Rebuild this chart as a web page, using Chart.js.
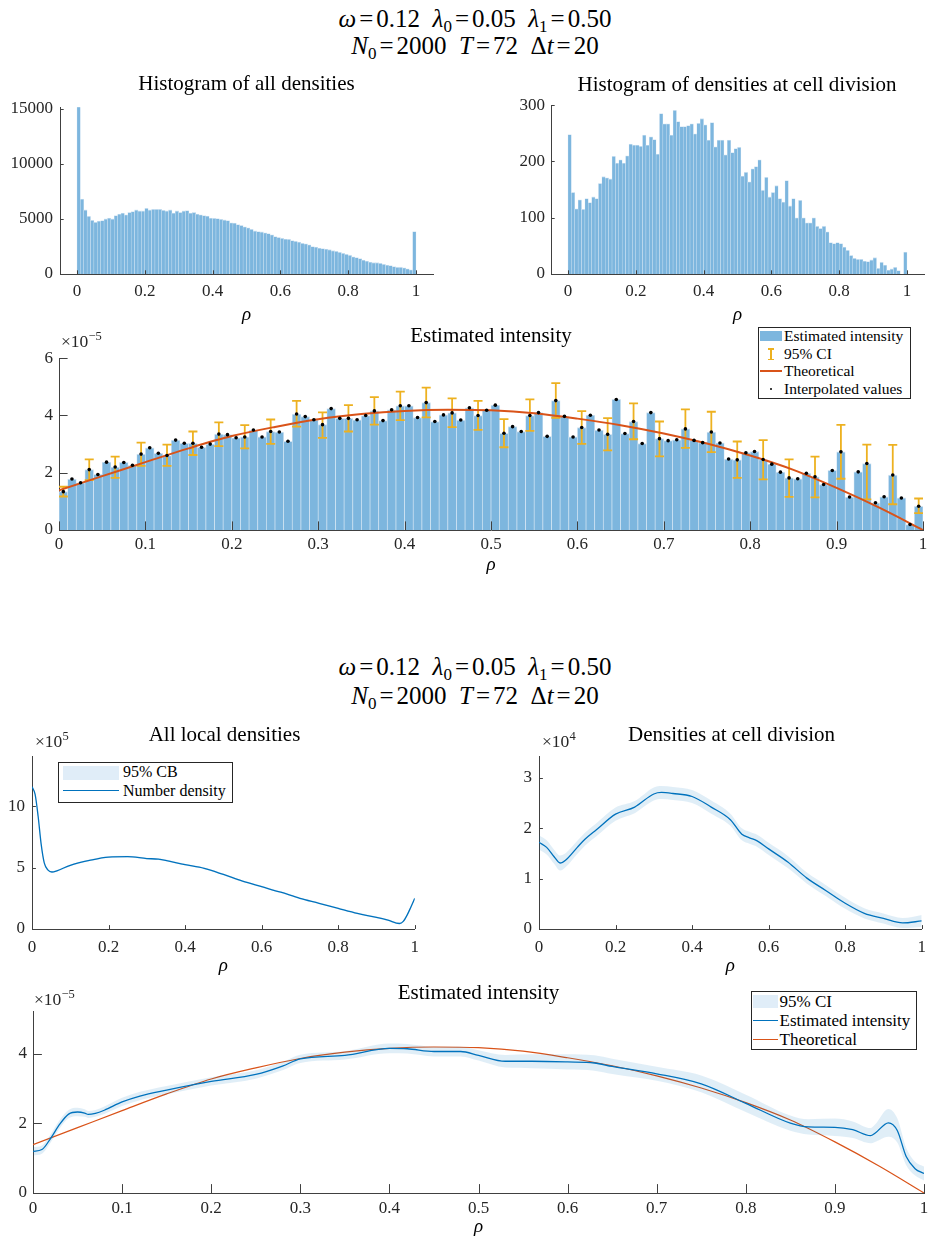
<!DOCTYPE html>
<html>
<head>
<meta charset="utf-8">
<script src="https://cdn.jsdelivr.net/npm/chart.js@4.4.1/dist/chart.umd.min.js"></script>
<style>
html, body { margin: 0; padding: 0; background: #fff; overflow: hidden; }
body { width: 928px; height: 1239px; position: relative; font-family: "Liberation Serif", "Times New Roman", serif; color: #000; }
canvas { position: absolute; }
.sup { position: absolute; left: 0; width: 950px; text-align: center; font-size: 25px; line-height: 25px; white-space: nowrap; }
.sup sub { font-size: 0.68em; vertical-align: -0.3em; line-height: 0; }
.sup .eq { margin: 0 3px; }
.ttl { position: absolute; font-size: 21px; line-height: 21px; white-space: nowrap; transform: translate(-50%, -50%); }
.expo { position: absolute; font-size: 17.5px; line-height: 17px; white-space: nowrap; transform: translateY(-50%); color: #262626; }
.expo sup { font-size: 12.5px; vertical-align: 7px; line-height: 0; }
.leg { position: absolute; box-sizing: border-box; border: 1px solid #262626; background: #fff; }
.sw { position: absolute; }
.li { position: absolute; line-height: 1; white-space: nowrap; transform: translateY(-50%); }
</style>
</head>
<body>
<canvas id="histAll"></canvas>
<canvas id="histDiv"></canvas>
<canvas id="intensityBars"></canvas>
<canvas id="allLocal"></canvas>
<canvas id="atDivision"></canvas>
<canvas id="intensityCurve"></canvas>

<div class="sup" style="top:6px"><i>ω</i><span class="eq">=</span>0.12&ensp;<i>λ</i><sub>0</sub><span class="eq">=</span>0.05&ensp;<i>λ</i><sub>1</sub><span class="eq">=</span>0.50</div>
<div class="sup" style="top:33px"><i>N</i><sub>0</sub><span class="eq">=</span>2000&ensp;<i>T</i><span class="eq">=</span>72&ensp;Δ<i>t</i><span class="eq">=</span>20</div>
<div class="sup" style="top:654px"><i>ω</i><span class="eq">=</span>0.12&ensp;<i>λ</i><sub>0</sub><span class="eq">=</span>0.05&ensp;<i>λ</i><sub>1</sub><span class="eq">=</span>0.50</div>
<div class="sup" style="top:683px"><i>N</i><sub>0</sub><span class="eq">=</span>2000&ensp;<i>T</i><span class="eq">=</span>72&ensp;Δ<i>t</i><span class="eq">=</span>20</div>

<div class="ttl" style="left:246.5px;top:83px">Histogram of all densities</div>
<div class="ttl" style="left:737px;top:83.5px">Histogram of densities at cell division</div>
<div class="ttl" style="left:491px;top:335px">Estimated intensity</div>
<div class="ttl" style="left:224.5px;top:733.5px">All local densities</div>
<div class="ttl" style="left:731.5px;top:733.5px">Densities at cell division</div>
<div class="ttl" style="left:478.5px;top:992px">Estimated intensity</div>

<div class="expo" style="left:61px;top:341px">×10<sup>−5</sup></div>
<div class="expo" style="left:35px;top:741px">×10<sup>5</sup></div>
<div class="expo" style="left:542px;top:741px">×10<sup>4</sup></div>
<div class="expo" style="left:34px;top:999px">×10<sup>−5</sup></div>

<!-- legend: estimated intensity (bars) -->
<div class="leg" style="left:758px;top:327px;width:153px;height:72px"></div>
<div class="sw" style="left:760px;top:331px;width:22px;height:10px;background:#7db6de"></div>
<div class="sw" style="left:770px;top:348px;width:1.6px;height:12px;background:#EDB120"></div>
<div class="sw" style="left:768px;top:348px;width:6px;height:1.5px;background:#EDB120"></div>
<div class="sw" style="left:768px;top:358.5px;width:6px;height:1.5px;background:#EDB120"></div>
<div class="sw" style="left:760px;top:370px;width:22px;height:1.5px;background:#D95319"></div>
<div class="sw" style="left:770px;top:387.5px;width:2px;height:2px;border-radius:50%;background:#000"></div>
<div class="li" style="left:784px;top:336px;font-size:15.5px">Estimated intensity</div>
<div class="li" style="left:784px;top:354px;font-size:15.5px">95% CI</div>
<div class="li" style="left:784px;top:371px;font-size:15.5px">Theoretical</div>
<div class="li" style="left:784px;top:388.5px;font-size:15.5px">Interpolated values</div>

<!-- legend: all local densities -->
<div class="leg" style="left:58px;top:762px;width:175px;height:41px"></div>
<div class="sw" style="left:63px;top:766px;width:56px;height:14px;background:#e0edf8"></div>
<div class="sw" style="left:63px;top:790px;width:56px;height:1.3px;background:#0072BD"></div>
<div class="li" style="left:123px;top:772px;font-size:16px">95% CB</div>
<div class="li" style="left:123px;top:791px;font-size:16px">Number density</div>

<!-- legend: estimated intensity (curve) -->
<div class="leg" style="left:751px;top:991px;width:166px;height:59px"></div>
<div class="sw" style="left:753px;top:995px;width:25px;height:13px;background:#e0edf8"></div>
<div class="sw" style="left:753px;top:1019.5px;width:25px;height:1.3px;background:#0072BD"></div>
<div class="sw" style="left:753px;top:1038.5px;width:25px;height:1.3px;background:#D95319"></div>
<div class="li" style="left:779.5px;top:1001px;font-size:17px">95% CI</div>
<div class="li" style="left:779.5px;top:1020px;font-size:17px">Estimated intensity</div>
<div class="li" style="left:779.5px;top:1039px;font-size:17px">Theoretical</div>

<script>
// ---- data ----
const binCenters = Array.from({ length: 100 }, (_, i) => +(0.005 + 0.01 * i).toFixed(3));

const histAllCounts = [
  15200, 6800, 5820, 5240, 4880, 4700, 4800, 4850, 5000, 5090,
  5000, 5300, 5440, 5530, 5380, 5590, 5680, 5820, 5730, 5730,
  5970, 5820, 5880, 5880, 5880, 5790, 5730, 5820, 5530, 5730,
  5590, 5730, 5760, 5530, 5590, 5440, 5380, 5300, 5260, 5090,
  5060, 5030, 4970, 4910, 4850, 4650, 4620, 4500, 4410, 4290,
  4200, 4060, 3910, 3850, 3820, 3740, 3680, 3560, 3410, 3320,
  3240, 3180, 3150, 3030, 2970, 2910, 2790, 2740, 2650, 2500,
  2440, 2350, 2320, 2260, 2210, 2120, 2060, 1970, 1880, 1790,
  1710, 1560, 1500, 1410, 1260, 1180, 1090, 1030, 1030, 970,
  880, 820, 760, 680, 620, 620, 560, 470, 380, 3850
];

const histDivCounts = [
  248, 145, 116, 132, 115, 134, 127, 137, 134, 161,
  173, 171, 169, 209, 197, 203, 197, 210, 231, 229,
  229, 227, 247, 229, 244, 239, 213, 285, 267, 267,
  247, 291, 271, 262, 262, 264, 267, 249, 268, 276,
  265, 238, 269, 226, 238, 238, 212, 238, 216, 223,
  225, 174, 181, 164, 187, 191, 203, 149, 172, 137,
  145, 157, 134, 128, 166, 121, 134, 100, 131, 100,
  91, 91, 100, 85, 81, 85, 75, 56, 54, 56,
  54, 48, 42, 33, 28, 26, 26, 23, 22, 25,
  29, 10, 21, 16, 7, 9, 12, 6, 0, 39
];

// estimated intensity per bin (x1e-5)
const intensity = [
  1.34, 1.78, 1.65, 2.11, 1.94, 2.37, 2.20, 2.36, 2.26, 2.65,
  2.87, 2.68, 2.60, 3.14, 3.03, 3.03, 2.89, 3.00, 3.35, 3.33,
  3.22, 3.25, 3.49, 3.25, 3.44, 3.42, 3.10, 4.05, 3.96, 3.85,
  3.68, 4.24, 3.90, 3.90, 3.85, 4.00, 4.16, 3.82, 4.20, 4.34,
  4.34, 3.93, 4.45, 3.79, 4.02, 4.09, 3.84, 4.27, 4.00, 4.18,
  4.36, 3.38, 3.61, 3.44, 4.00, 4.10, 3.27, 4.52, 3.97, 3.25,
  3.58, 4.01, 3.49, 3.34, 4.56, 3.37, 3.79, 3.02, 4.10, 3.19,
  3.12, 3.15, 3.53, 3.13, 3.05, 3.42, 3.04, 2.48, 2.45, 2.70,
  2.74, 2.46, 2.30, 2.02, 1.82, 1.79, 1.98, 1.86, 1.59, 2.08,
  2.73, 1.15, 2.03, 2.32, 0.95, 1.16, 1.92, 1.12, 0.19, 0.83
];

// 95% CI on every third bin
const ciRho = binCenters.filter((_, i) => i % 3 === 0);
const ciHi = [1.51, 2.47, 2.56, 3.05, 2.98, 3.44, 3.76, 3.66, 3.86, 4.51, 4.11, 4.36, 4.64, 4.83, 4.97, 4.60, 4.51,
  3.87, 4.56, 5.13, 4.15, 3.91, 4.42, 3.79, 4.21, 4.13, 3.09, 3.14, 2.47, 2.56, 3.67, 2.98, 2.97, 1.10];
const ciLo = [1.17, 1.74, 1.82, 2.24, 2.24, 2.62, 2.93, 2.85, 3.01, 3.61, 3.22, 3.44, 3.68, 3.84, 3.93, 3.59, 3.50,
  2.89, 3.46, 3.92, 3.01, 2.78, 3.17, 2.57, 2.87, 2.72, 1.82, 1.77, 1.16, 1.14, 1.79, 1.07, 0.90, 0.59];

// theoretical intensity (x1e-5)
const thRho = [0, 0.05, 0.1, 0.15, 0.2, 0.25, 0.3, 0.35, 0.4, 0.45, 0.5, 0.55, 0.6, 0.65, 0.7, 0.75, 0.8, 0.85, 0.9, 0.95, 1];
const thVal = [1.39, 1.88, 2.37, 2.85, 3.28, 3.60, 3.87, 4.05, 4.16, 4.20, 4.18, 4.08, 3.89, 3.66, 3.37, 3.02, 2.60, 2.10, 1.47, 0.77, 0.00];

// all local densities, number density (x1e5)
const dRho = [0, 0.008, 0.016, 0.024, 0.032, 0.042, 0.052, 0.065, 0.1, 0.15, 0.2, 0.25, 0.3, 0.33, 0.4, 0.45,
  0.5, 0.55, 0.6, 0.65, 0.7, 0.75, 0.8, 0.85, 0.9, 0.93, 0.96, 0.97, 0.98, 0.99, 1];
const dVal = [11.6, 11.0, 9.2, 6.9, 5.4, 4.8, 4.65, 4.75, 5.2, 5.6, 5.87, 5.9, 5.75, 5.7, 5.25, 4.95,
  4.45, 3.9, 3.45, 3.0, 2.5, 2.1, 1.68, 1.27, 0.95, 0.72, 0.45, 0.62, 1.13, 1.8, 2.5];
const dLo = [11.5, 10.9, 9.1, 6.8, 5.32, 4.73, 4.58, 4.68, 5.13, 5.53, 5.8, 5.83, 5.68, 5.63, 5.18, 4.88,
  4.38, 3.83, 3.38, 2.93, 2.43, 2.03, 1.61, 1.2, 0.88, 0.65, 0.38, 0.55, 1.05, 1.7, 2.38];
const dHi = [11.7, 11.1, 9.3, 7.0, 5.48, 4.87, 4.72, 4.82, 5.27, 5.67, 5.94, 5.97, 5.82, 5.77, 5.32, 5.02,
  4.52, 3.97, 3.52, 3.07, 2.57, 2.17, 1.75, 1.34, 1.02, 0.79, 0.52, 0.69, 1.21, 1.9, 2.62];

// densities at cell division (x1e4)
const eRho = [0, 0.02, 0.04, 0.055, 0.07, 0.1, 0.12, 0.15, 0.2, 0.25, 0.3, 0.32, 0.35, 0.4, 0.45, 0.5,
  0.53, 0.55, 0.57, 0.6, 0.65, 0.7, 0.75, 0.8, 0.85, 0.9, 0.95, 1];
const eVal = [1.72, 1.62, 1.43, 1.31, 1.37, 1.62, 1.78, 1.97, 2.28, 2.42, 2.68, 2.71, 2.69, 2.63, 2.42, 2.17,
  1.88, 1.81, 1.75, 1.59, 1.33, 1.01, 0.76, 0.51, 0.31, 0.21, 0.12, 0.16];
const eLo = [1.58, 1.48, 1.29, 1.16, 1.23, 1.49, 1.65, 1.84, 2.15, 2.30, 2.55, 2.58, 2.56, 2.50, 2.29, 2.05,
  1.76, 1.69, 1.63, 1.47, 1.21, 0.90, 0.65, 0.40, 0.21, 0.11, 0.02, 0.04];
const eHi = [1.86, 1.76, 1.57, 1.46, 1.51, 1.75, 1.91, 2.10, 2.41, 2.54, 2.81, 2.84, 2.82, 2.76, 2.55, 2.29,
  2.00, 1.93, 1.87, 1.71, 1.45, 1.12, 0.87, 0.62, 0.41, 0.31, 0.22, 0.28];

// estimated intensity curve with 95% CI (x1e-5)
const fRho = [0, 0.01, 0.02, 0.03, 0.04, 0.05, 0.058, 0.062, 0.07, 0.08, 0.1, 0.12, 0.15, 0.2, 0.25, 0.28, 0.3,
  0.35, 0.4, 0.42, 0.45, 0.48, 0.5, 0.53, 0.56, 0.6, 0.63, 0.65, 0.7, 0.75, 0.8, 0.85, 0.87, 0.9, 0.92, 0.94,
  0.945, 0.96, 0.97, 0.98, 0.99, 1];
const fVal = [1.20, 1.25, 1.58, 1.98, 2.27, 2.33, 2.30, 2.26, 2.29, 2.38, 2.62, 2.79, 2.96, 3.21, 3.41, 3.65, 3.86,
  3.96, 4.16, 4.15, 4.07, 4.07, 3.96, 3.79, 3.79, 3.77, 3.74, 3.64, 3.43, 3.14, 2.58, 2.01, 1.90, 1.89, 1.82, 1.65,
  1.72, 2.02, 1.80, 1.05, 0.70, 0.56];
const fLo = [1.08, 1.13, 1.46, 1.86, 2.15, 2.21, 2.19, 2.16, 2.19, 2.27, 2.50, 2.67, 2.84, 3.09, 3.29, 3.53, 3.74,
  3.84, 4.02, 4.01, 3.93, 3.93, 3.81, 3.61, 3.59, 3.55, 3.52, 3.42, 3.23, 2.90, 2.33, 1.79, 1.68, 1.64, 1.58, 1.43,
  1.47, 1.62, 1.45, 0.80, 0.50, 0.36];
const fHi = [1.32, 1.37, 1.70, 2.10, 2.39, 2.45, 2.41, 2.36, 2.39, 2.49, 2.74, 2.91, 3.08, 3.33, 3.53, 3.77, 3.98,
  4.08, 4.30, 4.29, 4.21, 4.21, 4.11, 3.97, 3.99, 3.99, 3.96, 3.86, 3.63, 3.38, 2.83, 2.23, 2.12, 2.14, 2.06, 1.87,
  1.97, 2.42, 2.15, 1.30, 0.90, 0.76];

// tick positions
const ticksFifth = [0, 0.2, 0.4, 0.6, 0.8, 1];
const ticksTenth = [0, 0.1, 0.2, 0.3, 0.4, 0.5, 0.6, 0.7, 0.8, 0.9, 1];
const ticksHistAll = [0, 5000, 10000, 15000];
const ticksHistDiv = [0, 100, 200, 300];
const ticksIntensityTop = [0, 2, 4, 6];
const ticksAllLocal = [0, 5, 10];
const ticksAtDivision = [0, 1, 2, 3];
const ticksIntensityBottom = [0, 2, 4];

// ---- styling ----
const SERIF = '"Liberation Serif", "Times New Roman", serif';
const AXIS = '#404040';
const INK = '#262626';
const BLUE = '#0072BD';
const RED = '#D95319';
const GOLD = '#EDB120';
const BAR = '#7db6de';
const BAR_EDGE = '#d3e5f3';
const BAND = 'rgba(0, 114, 189, 0.12)';

const pts = (xs, ys) => xs.map((x, i) => ({ x, y: ys[i] }));

// MATLAB style ticks pointing into the axes
const inwardTicks = {
  id: 'inwardTicks',
  afterDraw(chart, args, opts) {
    const { ctx, chartArea: a, scales: { x, y } } = chart;
    ctx.save();
    ctx.strokeStyle = AXIS;
    ctx.lineWidth = 1;
    ctx.beginPath();
    x.ticks.forEach(t => {
      const px = Math.round(x.getPixelForValue(t.value)) + 0.5;
      ctx.moveTo(px, a.bottom);
      ctx.lineTo(px, a.bottom - opts.len);
    });
    y.ticks.forEach(t => {
      const py = Math.round(y.getPixelForValue(t.value)) + 0.5;
      ctx.moveTo(a.left, py);
      ctx.lineTo(a.left + opts.len, py);
    });
    ctx.stroke();
    ctx.restore();
  }
};

// put the canvas so that the plot area lands on box L/T/R/B
function mount(id, b) {
  const cv = document.getElementById(id);
  const left = b.L - b.yW, top = b.T - b.padT;
  cv.width = b.R - left + b.padR;
  cv.height = b.rho + 11 - top;
  cv.style.left = left + 'px';
  cv.style.top = top + 'px';
  return cv.getContext('2d');
}

function options(b, xr, yr) {
  return {
    responsive: false,
    animation: false,
    devicePixelRatio: 1,
    events: [],
    layout: { padding: { top: b.padT, right: b.padR, left: 0, bottom: 0 } },
    plugins: { legend: { display: false }, tooltip: { enabled: false }, inwardTicks: { len: b.tick } },
    scales: {
      x: {
        type: 'linear', min: xr.min, max: xr.max, offset: false, z: 1,
        afterBuildTicks: s => { s.ticks = xr.ticks.map(v => ({ value: v })); },
        afterFit: s => { s.height = b.rho + 11 - b.B; },
        grid: { display: false, drawTicks: false },
        border: { display: true, color: AXIS, width: 1 },
        ticks: {
          color: INK, padding: b.xPad, maxRotation: 0, autoSkip: false,
          font: { family: SERIF, size: 17, lineHeight: 1.2 }, callback: v => String(v)
        },
        title: { display: true, text: 'ρ', color: '#000', padding: 0, font: { family: SERIF, size: 19, style: 'italic', lineHeight: '22px' } }
      },
      y: {
        type: 'linear', min: 0, max: yr.max, z: 1,
        afterBuildTicks: s => { s.ticks = yr.ticks.map(v => ({ value: v })); },
        afterFit: s => { s.width = b.yW; },
        grid: { display: false, drawTicks: false },
        border: { display: true, color: AXIS, width: 1 },
        ticks: { color: INK, padding: b.yPad, font: { family: SERIF, size: 17, lineHeight: 1.2 }, callback: v => String(v) }
      }
    }
  };
}

function histogram(id, b, counts, yr) {
  new Chart(mount(id, b), {
    type: 'bar',
    data: {
      datasets: [{
        data: pts(binCenters, counts),
        backgroundColor: BAR, borderColor: BAR_EDGE,
        borderWidth: { left: 0.5, right: 0.5, top: 0.8, bottom: 0 }, borderSkipped: false,
        barPercentage: 1, categoryPercentage: 1
      }]
    },
    options: options(b, { min: -0.05, max: 1.05, ticks: ticksFifth }, yr),
    plugins: [inwardTicks]
  });
}

// 1. histogram of all densities
histogram('histAll', { L: 60, T: 102, R: 433, B: 274, rho: 315, yW: 60, padT: 12, padR: 10, xPad: 7, yPad: 7, tick: 3.7 },
  histAllCounts, { max: 15150, ticks: ticksHistAll });

// 2. histogram of densities at cell division
histogram('histDiv', { L: 551, T: 101, R: 924, B: 274, rho: 315, yW: 60, padT: 12, padR: 10, xPad: 7, yPad: 6, tick: 3.7 },
  histDivCounts, { max: 300, ticks: ticksHistDiv });

// 3. estimated intensity with CI bars
{
  const b = { L: 59, T: 354, R: 923, B: 530, rho: 565, yW: 59, padT: 12, padR: 10, xPad: 4, yPad: 6, tick: 8.6 };
  const stems = [];
  ciRho.forEach((x, i) => { stems.push({ x, y: ciLo[i] }, { x, y: ciHi[i] }, { x, y: null }); });
  const caps = ciRho.flatMap((x, i) => [{ x, y: ciLo[i] }, { x, y: ciHi[i] }]);
  new Chart(mount('intensityBars', b), {
    type: 'bar',
    data: {
      datasets: [
        { type: 'scatter', label: 'Interpolated values', data: pts(binCenters, intensity), pointRadius: 1.8, pointBackgroundColor: '#000', pointBorderWidth: 0, order: 1 },
        { type: 'line', label: 'Theoretical', data: pts(thRho, thVal), borderColor: RED, borderWidth: 2, pointRadius: 0, cubicInterpolationMode: 'monotone', order: 2 },
        { type: 'line', label: '95% CI', data: stems, borderColor: GOLD, borderWidth: 1.8, pointRadius: 0, spanGaps: false, order: 3 },
        { type: 'scatter', data: caps, pointStyle: 'line', pointRadius: 4.5, pointBorderColor: GOLD, pointBorderWidth: 1.8, order: 3 },
        {
          type: 'bar', label: 'Estimated intensity', data: pts(binCenters, intensity),
          backgroundColor: BAR, borderColor: BAR_EDGE,
          borderWidth: { left: 0.7, right: 0.7, top: 1, bottom: 0 }, borderSkipped: false,
          barPercentage: 1, categoryPercentage: 1, order: 5
        }
      ]
    },
    options: options(b, { min: 0, max: 1, ticks: ticksTenth }, { max: 6, ticks: ticksIntensityTop }),
    plugins: [inwardTicks]
  });
}

function bandChart(id, b, xr, yr, series) {
  new Chart(mount(id, b), {
    type: 'line',
    data: { datasets: series },
    options: options(b, xr, yr),
    plugins: [inwardTicks]
  });
}

const bandEdge = (xs, ys, fill) => ({
  data: pts(xs, ys), borderColor: 'transparent', borderWidth: 0, pointRadius: 0,
  cubicInterpolationMode: 'monotone', fill: fill, backgroundColor: BAND
});
const curve = (xs, ys, color, w) => ({
  data: pts(xs, ys), borderColor: color, borderWidth: w, pointRadius: 0, cubicInterpolationMode: 'monotone', fill: false
});

// 4. all local densities
bandChart('allLocal', { L: 32, T: 751, R: 417, B: 929, rho: 966, yW: 32, padT: 12, padR: 10, xPad: 8, yPad: 7, tick: 3.9 },
  { min: 0, max: 1, ticks: ticksFifth }, { max: 14.1, ticks: ticksAllLocal },
  [bandEdge(dRho, dLo, false), bandEdge(dRho, dHi, '-1'), curve(dRho, dVal, BLUE, 1.3)]);

// 5. densities at cell division
bandChart('atDivision', { L: 539, T: 751, R: 924, B: 929, rho: 966, yW: 60, padT: 12, padR: 10, xPad: 8, yPad: 7, tick: 3.9 },
  { min: 0, max: 1, ticks: ticksFifth }, { max: 3.43, ticks: ticksAtDivision },
  [bandEdge(eRho, eLo, false), bandEdge(eRho, eHi, '-1'), curve(eRho, eVal, BLUE, 1.3)]);

// 6. estimated intensity curve
bandChart('intensityCurve', { L: 33, T: 1007, R: 924, B: 1193, rho: 1227, yW: 33, padT: 12, padR: 10, xPad: 5, yPad: 6, tick: 8.9 },
  { min: 0, max: 1, ticks: ticksTenth }, { max: 5.23, ticks: ticksIntensityBottom },
  [bandEdge(fRho, fLo, false), bandEdge(fRho, fHi, '-1'), curve(fRho, fVal, BLUE, 1.3), curve(thRho, thVal, RED, 1.2)]);
</script>
</body>
</html>
